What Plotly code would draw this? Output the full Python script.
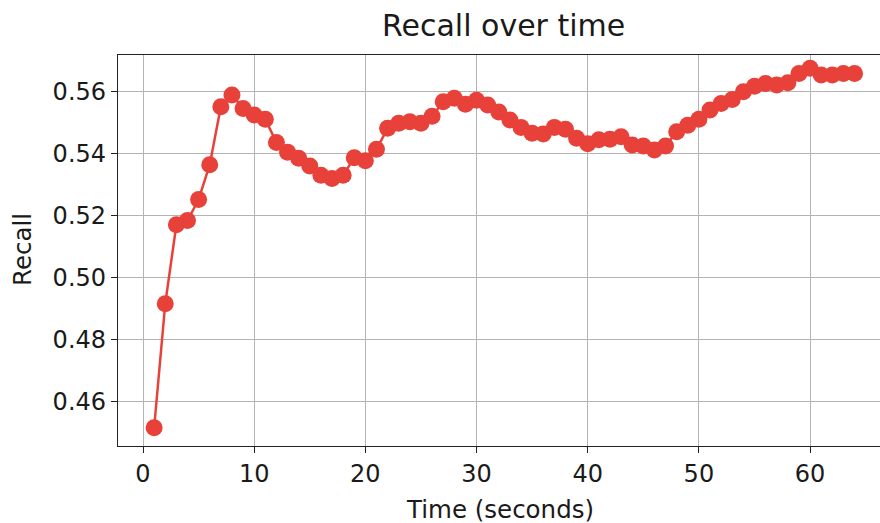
import plotly.graph_objects as go

time_s = list(range(1, 65))
recall = [0.4514, 0.4915, 0.5170, 0.5184, 0.5252, 0.5364, 0.5552, 0.5590,
          0.5546, 0.5525, 0.5511, 0.5436, 0.5405, 0.5385, 0.5360, 0.5330,
          0.5320, 0.5330, 0.5387, 0.5377, 0.5414, 0.5482, 0.5498, 0.5503,
          0.5498, 0.5521, 0.5568, 0.5579, 0.5560, 0.5573, 0.5557, 0.5535,
          0.5509, 0.5485, 0.5466, 0.5464, 0.5485, 0.5479, 0.5450, 0.5432,
          0.5445, 0.5447, 0.5455, 0.5428, 0.5425, 0.5412, 0.5425, 0.5471,
          0.5492, 0.5511, 0.5541, 0.5562, 0.5575, 0.5600, 0.5618, 0.5627,
          0.5622, 0.5629, 0.5659, 0.5676, 0.5654, 0.5654, 0.5659, 0.5659]

x_ticks = [0, 10, 20, 30, 40, 50, 60]
y_ticks = [0.46, 0.48, 0.50, 0.52, 0.54, 0.56]
y_tick_labels = ["0.46", "0.48", "0.50", "0.52", "0.54", "0.56"]

FONT = "DejaVu Sans"
RED = "#e8413a"
TXT = "#1a1a1a"

W, H = 880, 523
ML, MR, MT, MB = 118, 0, 55, 77
PW, PH = W - ML - MR, H - MT - MB

fig = go.Figure()
fig.add_trace(go.Scatter(
    x=time_s, y=recall, mode="lines+markers",
    line=dict(color=RED, width=2.5),
    marker=dict(color=RED, size=17, line=dict(width=0)),
    showlegend=False,
))

axis_common = dict(
    showgrid=True, gridcolor="#b3b3b3", gridwidth=1.3,
    ticks="outside", ticklen=6, tickwidth=1.2, tickcolor="#222",
    showline=True, linecolor="#222", linewidth=1.3,
    zeroline=False,
    tickfont=dict(family=FONT, size=24, color=TXT),
)

fig.update_layout(
    width=W, height=H,
    margin=dict(l=ML, r=MR, t=MT, b=MB),
    paper_bgcolor="white", plot_bgcolor="white",
    font=dict(family=FONT, color=TXT),
    xaxis=dict(range=[-2.25, 66.29], tickvals=x_ticks, mirror=True, **axis_common),
    yaxis=dict(range=[0.4455, 0.5719], tickvals=y_ticks, ticktext=y_tick_labels,
               **axis_common),
    annotations=[
        dict(text="Recall over time", xref="paper", yref="paper",
             x=(503 - ML) / PW, y=1 + (MT - 26) / PH, xanchor="center", yanchor="middle",
             showarrow=False, font=dict(family=FONT, size=30, color=TXT)),
        dict(text="Time (seconds)", xref="paper", yref="paper",
             x=(500 - ML) / PW, y=-(509 - (H - MB)) / PH, xanchor="center", yanchor="middle",
             showarrow=False, font=dict(family=FONT, size=24.5, color=TXT)),
        dict(text="Recall", xref="paper", yref="paper",
             x=-(ML - 22) / PW, y=(H - MB - 250) / PH, xanchor="center", yanchor="middle",
             textangle=-90, showarrow=False, font=dict(family=FONT, size=24.5, color=TXT)),
    ],
)

fig.write_html("out.html")
